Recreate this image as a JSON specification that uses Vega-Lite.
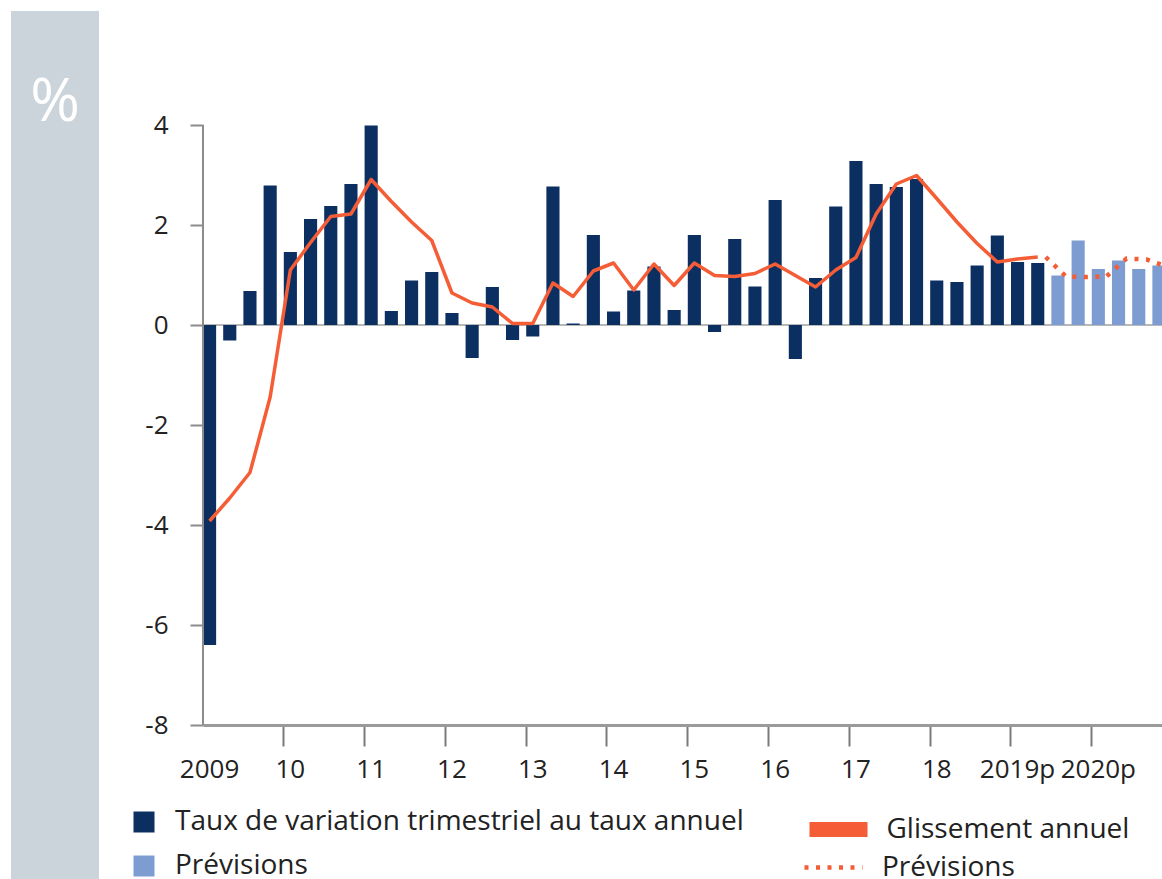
{
  "$schema": "https://vega.github.io/schema/vega-lite/v6.json",
  "background": "white",
  "padding": {"left": 11, "top": 11, "right": 0, "bottom": 0},
  "spacing": 104,
  "bounds": "flush",
  "config": {
    "font": "Open Sans",
    "view": {"stroke": null},
    "axis": {"labelFont": "Open Sans", "labelColor": "#222222", "titleFont": "Open Sans"},
    "legend": {"labelFont": "Open Sans", "labelColor": "#222222"}
  },
  "datasets": {
    "trimestres": [
      {"periode": "2009-T1", "taux": -6.4, "glissement": -3.92, "statut": "Observé"},
      {"periode": "2009-T2", "taux": -0.31, "glissement": -3.46, "statut": "Observé"},
      {"periode": "2009-T3", "taux": 0.68, "glissement": -2.95, "statut": "Observé"},
      {"periode": "2009-T4", "taux": 2.79, "glissement": -1.44, "statut": "Observé"},
      {"periode": "2010-T1", "taux": 1.46, "glissement": 1.1, "statut": "Observé"},
      {"periode": "2010-T2", "taux": 2.12, "glissement": 1.65, "statut": "Observé"},
      {"periode": "2010-T3", "taux": 2.38, "glissement": 2.17, "statut": "Observé"},
      {"periode": "2010-T4", "taux": 2.82, "glissement": 2.22, "statut": "Observé"},
      {"periode": "2011-T1", "taux": 3.99, "glissement": 2.91, "statut": "Observé"},
      {"periode": "2011-T2", "taux": 0.28, "glissement": 2.47, "statut": "Observé"},
      {"periode": "2011-T3", "taux": 0.89, "glissement": 2.06, "statut": "Observé"},
      {"periode": "2011-T4", "taux": 1.06, "glissement": 1.69, "statut": "Observé"},
      {"periode": "2012-T1", "taux": 0.24, "glissement": 0.64, "statut": "Observé"},
      {"periode": "2012-T2", "taux": -0.66, "glissement": 0.44, "statut": "Observé"},
      {"periode": "2012-T3", "taux": 0.76, "glissement": 0.36, "statut": "Observé"},
      {"periode": "2012-T4", "taux": -0.3, "glissement": 0.03, "statut": "Observé"},
      {"periode": "2013-T1", "taux": -0.23, "glissement": 0.03, "statut": "Observé"},
      {"periode": "2013-T2", "taux": 2.77, "glissement": 0.84, "statut": "Observé"},
      {"periode": "2013-T3", "taux": 0.03, "glissement": 0.57, "statut": "Observé"},
      {"periode": "2013-T4", "taux": 1.8, "glissement": 1.08, "statut": "Observé"},
      {"periode": "2014-T1", "taux": 0.27, "glissement": 1.24, "statut": "Observé"},
      {"periode": "2014-T2", "taux": 0.69, "glissement": 0.7, "statut": "Observé"},
      {"periode": "2014-T3", "taux": 1.17, "glissement": 1.22, "statut": "Observé"},
      {"periode": "2014-T4", "taux": 0.3, "glissement": 0.79, "statut": "Observé"},
      {"periode": "2015-T1", "taux": 1.8, "glissement": 1.24, "statut": "Observé"},
      {"periode": "2015-T2", "taux": -0.14, "glissement": 0.99, "statut": "Observé"},
      {"periode": "2015-T3", "taux": 1.72, "glissement": 0.97, "statut": "Observé"},
      {"periode": "2015-T4", "taux": 0.77, "glissement": 1.03, "statut": "Observé"},
      {"periode": "2016-T1", "taux": 2.5, "glissement": 1.22, "statut": "Observé"},
      {"periode": "2016-T2", "taux": -0.68, "glissement": 0.99, "statut": "Observé"},
      {"periode": "2016-T3", "taux": 0.94, "glissement": 0.76, "statut": "Observé"},
      {"periode": "2016-T4", "taux": 2.37, "glissement": 1.1, "statut": "Observé"},
      {"periode": "2017-T1", "taux": 3.28, "glissement": 1.35, "statut": "Observé"},
      {"periode": "2017-T2", "taux": 2.82, "glissement": 2.22, "statut": "Observé"},
      {"periode": "2017-T3", "taux": 2.76, "glissement": 2.82, "statut": "Observé"},
      {"periode": "2017-T4", "taux": 2.92, "glissement": 2.99, "statut": "Observé"},
      {"periode": "2018-T1", "taux": 0.89, "glissement": 2.53, "statut": "Observé"},
      {"periode": "2018-T2", "taux": 0.86, "glissement": 2.06, "statut": "Observé"},
      {"periode": "2018-T3", "taux": 1.19, "glissement": 1.63, "statut": "Observé"},
      {"periode": "2018-T4", "taux": 1.79, "glissement": 1.26, "statut": "Observé"},
      {"periode": "2019-T1", "taux": 1.26, "glissement": 1.32, "statut": "Observé"},
      {"periode": "2019-T2", "taux": 1.24, "glissement": 1.36, "statut": "Observé"},
      {"periode": "2019-T3", "taux": 0.99, "glissement": 0.97, "statut": "Prévisions"},
      {"periode": "2019-T4", "taux": 1.69, "glissement": 0.96, "statut": "Prévisions"},
      {"periode": "2020-T1", "taux": 1.12, "glissement": 0.97, "statut": "Prévisions"},
      {"periode": "2020-T2", "taux": 1.29, "glissement": 1.33, "statut": "Prévisions"},
      {"periode": "2020-T3", "taux": 1.12, "glissement": 1.31, "statut": "Prévisions"},
      {"periode": "2020-T4", "taux": 1.19, "glissement": 1.17, "statut": "Prévisions"}
    ]
  },
  "hconcat": [
    {
      "width": 88,
      "height": 868,
      "view": {"fill": "#ccd4db", "stroke": null},
      "title": {
        "text": "%",
        "frame": "group",
        "anchor": "middle",
        "orient": "top",
        "baseline": "alphabetic",
        "offset": -170,
        "font": "Open Sans",
        "fontSize": 60,
        "fontWeight": "normal",
        "color": "#ffffff"
      },
      "data": {"values": []},
      "mark": {"type": "text"},
      "encoding": {}
    },
    {
      "width": 962.5,
      "height": 714,
      "data": {"name": "trimestres"},
      "layer": [
        {
          "data": {"values": [{}]},
          "mark": {"type": "rule", "color": "#a0a0a0", "strokeWidth": 1.5},
          "encoding": {"y": {"datum": 0, "type": "quantitative"}}
        },
        {
          "transform": [{"filter": "datum.statut == 'Observé'"}],
          "mark": {"type": "bar"},
          "encoding": {
            "x": {
              "field": "periode",
              "type": "ordinal",
              "title": null,
              "scale": {
                "type": "band",
                "paddingInner": 0.35,
                "paddingOuter": 0,
                "domain": ["2009-T1","2009-T2","2009-T3","2009-T4","2010-T1","2010-T2","2010-T3","2010-T4","2011-T1","2011-T2","2011-T3","2011-T4","2012-T1","2012-T2","2012-T3","2012-T4","2013-T1","2013-T2","2013-T3","2013-T4","2014-T1","2014-T2","2014-T3","2014-T4","2015-T1","2015-T2","2015-T3","2015-T4","2016-T1","2016-T2","2016-T3","2016-T4","2017-T1","2017-T2","2017-T3","2017-T4","2018-T1","2018-T2","2018-T3","2018-T4","2019-T1","2019-T2","2019-T3","2019-T4","2020-T1","2020-T2","2020-T3","2020-T4"]
              },
              "axis": {
                "values": ["2009-T1","2010-T1","2011-T1","2012-T1","2013-T1","2014-T1","2015-T1","2016-T1","2017-T1","2018-T1","2019-T1","2020-T1"],
                "bandPosition": 0,
                "labelExpr": "datum.value == '2009-T1' ? '2009' : datum.value == '2019-T1' ? '2019p' : datum.value == '2020-T1' ? '2020p' : substring(datum.value, 2, 4)",
                "labelAngle": 0,
                "labelFontSize": 26,
                "labelPadding": 10,
                "labelOverlap": false,
                "tickSize": 21,
                "tickWidth": 2,
                "tickColor": "#7a7a7a",
                "tickOpacity": {"condition": {"test": "datum.value == '2009-T1'", "value": 0}, "value": 1},
                "domainColor": "#9a9a9a",
                "domainWidth": 3,
                "grid": false,
                "title": null
              }
            },
            "y": {
              "field": "taux",
              "type": "quantitative",
              "title": null,
              "scale": {"domain": [-8, 6.28], "nice": false, "zero": false},
              "axis": {
                "values": [-8, -6, -4, -2, 0, 2, 4],
                "labelExpr": "datum.value + ''",
                "domain": false,
                "grid": false,
                "tickSize": 13,
                "tickWidth": 2,
                "tickColor": "#8c8c8c",
                "labelPadding": 22,
                "labelFontSize": 26,
                "title": null
              }
            },
            "fill": {
              "field": "statut",
              "type": "nominal",
              "scale": {"domain": ["Observé", "Prévisions"], "range": ["#0c2f62", "#7c9cd2"]},
              "legend": {
                "orient": "none",
                "legendX": 119,
                "legendY": 797,
                "title": null,
                "padding": 0,
                "symbolType": "square",
                "symbolSize": 441,
                "symbolStrokeWidth": 0,
                "labelFontSize": 28,
                "labelLimit": 900,
                "labelOffset": 17,
                "rowPadding": 16,
                "labelExpr": "datum.label == 'Observé' ? 'Taux de variation trimestriel au taux annuel' : datum.label"
              }
            }
          }
        },
        {
          "transform": [{"filter": "datum.statut == 'Prévisions'"}],
          "mark": {"type": "bar", "width": {"band": 1}},
          "encoding": {
            "x": {"field": "periode", "type": "ordinal", "bandPosition": 1.11},
            "y": {"field": "taux", "type": "quantitative"},
            "fill": {"field": "statut", "type": "nominal"}
          }
        },
        {
          "data": {"values": [{}]},
          "mark": {"type": "rule", "color": "#8c8c8c", "strokeWidth": 2},
          "encoding": {
            "x": {"datum": "2009-T1", "type": "ordinal", "bandPosition": 0},
            "y": {"datum": -8, "type": "quantitative"},
            "y2": {"datum": 4}
          }
        },
        {
          "transform": [{"filter": "datum.statut == 'Observé'"}],
          "mark": {"type": "line", "strokeWidth": 3.5, "strokeJoin": "round"},
          "encoding": {
            "x": {"field": "periode", "type": "ordinal"},
            "y": {"field": "glissement", "type": "quantitative"},
            "stroke": {
              "datum": "Glissement annuel",
              "type": "nominal",
              "scale": {"domain": ["Glissement annuel"], "range": ["#f45d35"]},
              "legend": {
                "orient": "none",
                "legendX": 791,
                "legendY": 782,
                "title": null,
                "padding": 0,
                "symbolType": "stroke",
                "symbolSize": 3364,
                "symbolStrokeWidth": 15,
                "labelFontSize": 28,
                "labelLimit": 900,
                "labelOffset": 11.5
              }
            }
          }
        },
        {
          "transform": [{"filter": "datum.statut == 'Prévisions' || datum.periode == '2019-T2'"}],
          "mark": {"type": "line", "strokeWidth": 4.5, "color": "#f45d35"},
          "encoding": {
            "x": {"field": "periode", "type": "ordinal", "bandPosition": 1.11},
            "y": {"field": "glissement", "type": "quantitative"},
            "strokeDash": {
              "datum": "Prévisions",
              "type": "nominal",
              "scale": {"domain": ["Prévisions"], "range": [[4, 7.5]]},
              "legend": {
                "orient": "none",
                "legendX": 791,
                "legendY": 825,
                "title": null,
                "padding": 0,
                "symbolType": "stroke",
                "symbolSize": 3364,
                "symbolStrokeWidth": 4.5,
                "symbolStrokeColor": "#f45d35",
                "labelFontSize": 28,
                "labelLimit": 900,
                "labelOffset": 17
              }
            }
          }
        }
      ]
    }
  ]
}
